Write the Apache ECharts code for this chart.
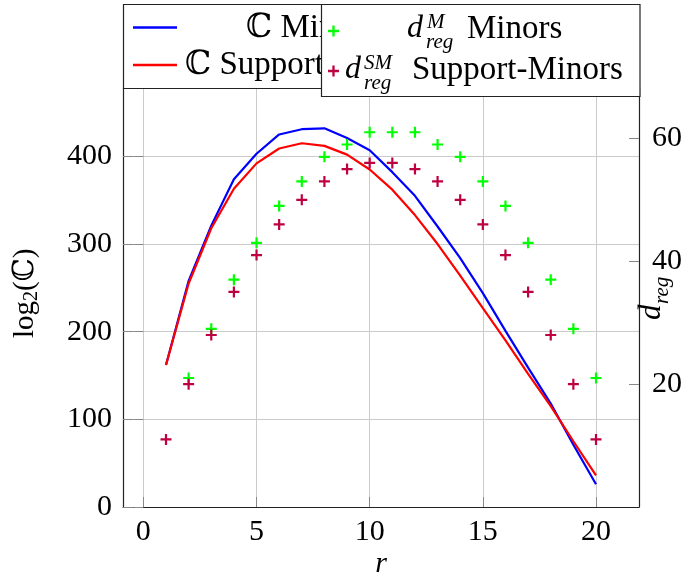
<!DOCTYPE html>
<html>
<head>
<meta charset="utf-8">
<script src="https://cdn.jsdelivr.net/npm/echarts@6/dist/echarts.min.js"></script>
<style>
  html, body { margin: 0; background: #fff; }
  #chart { width: 685px; height: 579px; }
</style>
</head>
<body>
<div id="chart"></div>
<script>
// data
const rValues = [1, 2, 3, 4, 5, 6, 7, 8, 9, 10, 11, 12, 13, 14, 15, 16, 17, 18, 19, 20]
const cMinors = [162, 258, 321, 374, 403, 425, 431, 432, 421, 407, 382, 355, 320, 284, 244, 201, 159, 118, 71, 26]
const cSupportMinors = [162, 255, 318, 363, 392, 409, 415, 412, 402, 385, 362, 333, 300, 264, 227, 190, 152, 115, 75, 36]
// r = 1 of the green series is hidden under the crimson mark
const dregMinors = [null, 21, 29, 37, 43, 49, 53, 57, 59, 61, 61, 61, 59, 57, 53, 49, 43, 37, 29, 21]
const dregSupportMinors = [11, 20, 28, 35, 41, 46, 50, 53, 55, 56, 56, 55, 53, 50, 46, 41, 35, 28, 20, 11]

const xTicks = [0, 5, 10, 15, 20]
const leftTicks = [0, 100, 200, 300, 400]
const rightTicks = [20, 40, 60]

const SERIF = '"Liberation Serif", "DejaVu Serif", serif'
const PLUS = 'path://M4,0H6V4H10V6H6V10H4V6H0V4H4Z'

function pairs(ys) {
  return rValues.map((r, i) => [r, ys[i]]).filter(p => p[1] != null)
}

function txt(text, x, y, size, opts = {}) {
  return {
    type: 'text',
    z: opts.z || 103,
    style: {
      text: text,
      x: x,
      y: y,
      font: (opts.italic ? 'italic ' : '') + size + 'px ' + SERIF,
      fill: '#000',
      align: opts.align || 'left',
      verticalAlign: 'middle'
    }
  }
}

// legend marker: a plus sign centred on (cx, cy)
function plusMark(cx, cy, color) {
  const h = 5.5, t = 1.15
  return {
    type: 'polygon',
    z: 103,
    shape: { points: [
      [cx - t, cy - h], [cx + t, cy - h], [cx + t, cy - t], [cx + h, cy - t],
      [cx + h, cy + t], [cx + t, cy + t], [cx + t, cy + h], [cx - t, cy + h],
      [cx - t, cy + t], [cx - h, cy + t], [cx - h, cy - t], [cx - t, cy - t]
    ] },
    style: { fill: color }
  }
}

const chart = echarts.init(document.getElementById('chart'))

const tickStyle = { color: '#888', width: 1 }
const frameStyle = { color: '#222', width: 1.2 }

chart.setOption({
  animation: false,
  backgroundColor: '#fff',
  grid: { left: 123, right: 45, top: 88, bottom: 72 },
  xAxis: {
    type: 'value',
    min: -0.9,
    max: 21.9,
    axisLine: { show: true, onZero: false, lineStyle: frameStyle },
    axisTick: { show: true, inside: true, length: 10, customValues: xTicks, lineStyle: tickStyle },
    axisLabel: { customValues: xTicks, fontSize: 30, fontFamily: SERIF, color: '#000', margin: 10 },
    splitLine: { show: true, lineStyle: { color: '#ccc', width: 1 } }
  },
  yAxis: [
    {
      type: 'value',
      position: 'left',
      min: 0,
      max: 478,
      axisLine: { show: true, onZero: false, lineStyle: frameStyle },
      axisTick: { show: true, inside: true, length: 10, customValues: leftTicks, lineStyle: tickStyle },
      axisLabel: { customValues: leftTicks, fontSize: 30, fontFamily: SERIF, color: '#000', margin: 11 },
      splitLine: { show: true, lineStyle: { color: '#ccc', width: 1 } }
    },
    {
      type: 'value',
      position: 'right',
      min: 0,
      max: 68.2,
      axisLine: { show: true, onZero: false, lineStyle: frameStyle },
      axisTick: { show: true, inside: true, length: 10, customValues: rightTicks, lineStyle: tickStyle },
      axisLabel: { customValues: rightTicks, fontSize: 30, fontFamily: SERIF, color: '#000', margin: 13 },
      splitLine: { show: false }
    },
    {
      // left axis ticks mirrored on the right side
      type: 'value',
      position: 'right',
      min: 0,
      max: 478,
      axisLine: { show: false },
      axisTick: { show: true, inside: true, length: 10, customValues: leftTicks, lineStyle: tickStyle },
      axisLabel: { show: false },
      splitLine: { show: false }
    }
  ],
  series: [
    {
      name: 'C Minors',
      type: 'line',
      data: pairs(cMinors),
      symbol: 'none',
      lineStyle: { color: '#0000ff', width: 2.2 },
      itemStyle: { color: '#0000ff' },
      z: 3
    },
    {
      name: 'C Support-Minors',
      type: 'line',
      data: pairs(cSupportMinors),
      symbol: 'none',
      lineStyle: { color: '#ff0000', width: 2.2 },
      itemStyle: { color: '#ff0000' },
      z: 4
    },
    {
      name: 'dreg Minors',
      type: 'scatter',
      yAxisIndex: 1,
      data: pairs(dregMinors),
      symbol: PLUS,
      symbolSize: 11,
      itemStyle: { color: '#00ff00', opacity: 1 },
      z: 5
    },
    {
      name: 'dreg Support-Minors',
      type: 'scatter',
      yAxisIndex: 1,
      data: pairs(dregSupportMinors),
      symbol: PLUS,
      symbolSize: 11,
      itemStyle: { color: '#bf0040', opacity: 1 },
      z: 6
    }
  ],
  graphic: { elements: [
    // left legend box
    { type: 'rect', z: 100, shape: { x: 123.5, y: 4.5, width: 204, height: 84 },
      style: { fill: '#fff', stroke: '#222', lineWidth: 1.2 } },
    { type: 'line', z: 101, shape: { x1: 133, y1: 27.5, x2: 177, y2: 27.5 },
      style: { stroke: '#0000ff', lineWidth: 2.5 } },
    { type: 'line', z: 101, shape: { x1: 133, y1: 65, x2: 177, y2: 65 },
      style: { stroke: '#ff0000', lineWidth: 2.5 } },
    txt('ℂ Minors', 246, 28, 33, { z: 101 }),
    txt('ℂ Support-Minors', 185, 65, 33, { z: 101 }),
    // right legend box
    { type: 'rect', z: 102, shape: { x: 321.5, y: 4.5, width: 318.5, height: 92 },
      style: { fill: '#fff', stroke: '#222', lineWidth: 1.2 } },
    plusMark(333.5, 31, '#00ff00'),
    plusMark(333.5, 71, '#bf0040'),
    txt('d', 407, 29, 32, { italic: true }),
    txt('M', 427, 22, 21, { italic: true }),
    txt('reg', 426, 42, 21, { italic: true }),
    txt('Minors', 467, 29, 33),
    txt('d', 345, 70, 32, { italic: true }),
    txt('SM', 364, 63, 21, { italic: true }),
    txt('reg', 364, 83, 21, { italic: true }),
    txt('Support-Minors', 412, 70, 33),
    // axis titles
    txt('r', 381, 564, 30, { italic: true, align: 'center', z: 50 }),
    {
      type: 'group', x: 25, y: 293, rotation: Math.PI / 2, z: 50,
      children: [
        txt('log', -45, 0, 29, { z: 50 }),
        txt('2', -8, 7, 20, { z: 50 }),
        txt('(ℂ)', 2, 0, 29, { z: 50 })
      ]
    },
    {
      type: 'group', x: 656, y: 300, rotation: Math.PI / 2, z: 50,
      children: [
        txt('d', -20, -4, 31, { italic: true, z: 50 }),
        txt('reg', -4, 6, 21, { italic: true, z: 50 })
      ]
    }
  ] }
})
</script>
</body>
</html>
